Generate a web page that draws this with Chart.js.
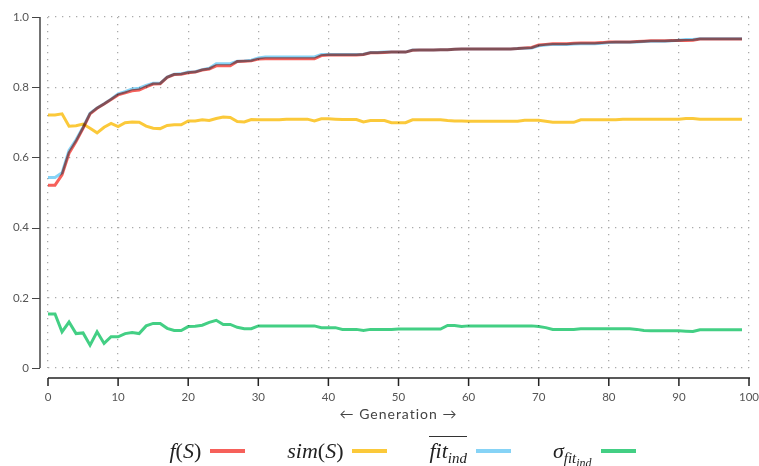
<!DOCTYPE html>
<html>
<head>
<meta charset="utf-8">
<script src="https://cdn.jsdelivr.net/npm/chart.js@4.4.1/dist/chart.umd.min.js"></script>
<style>
  html, body { margin: 0; padding: 0; background: #fff; }
  #wrap { position: relative; width: 759px; height: 466px; }
  #legend {
    position: absolute; left: 0; right: 0; top: 436px; height: 30px;
    display: flex; align-items: center; justify-content: center;
    padding-left: 46px; box-sizing: border-box;
    font-family: "Liberation Serif", serif; font-style: italic; font-size: 22px; color: #222;
  }
  .item { display: flex; align-items: center; margin: 0 21px; }
  .swatch { width: 35px; height: 4px; margin-left: 9px; }
  .up { font-style: normal; }
  sub { font-size: 0.68em; vertical-align: -0.35em; line-height: 0; }
  sub sub { font-size: 0.8em; vertical-align: -0.3em; }
  .bar { border-top: 1.5px solid #333; padding-top: 1px; }
</style>
</head>
<body>
<div id="wrap">
  <canvas id="evo-chart" width="759" height="466"></canvas>
  <div id="legend"></div>
</div>
<script>
// generation index along the x axis
const generations = Array.from({ length: 100 }, (_, i) => i);

// fitness of the solution f(S)
const fitS = [
  0.521, 0.521, 0.550, 0.612, 0.645, 0.683, 0.724, 0.740, 0.752, 0.765,
  0.778, 0.784, 0.790, 0.792, 0.801, 0.809, 0.810, 0.828, 0.836, 0.837,
  0.841, 0.843, 0.849, 0.852, 0.861, 0.861, 0.861, 0.873, 0.874, 0.875,
  0.880, 0.881, 0.881, 0.881, 0.881, 0.881, 0.881, 0.881, 0.881, 0.890,
  0.892, 0.892, 0.892, 0.892, 0.892, 0.893, 0.898, 0.898, 0.899, 0.900,
  0.900, 0.900, 0.905, 0.906, 0.906, 0.906, 0.907, 0.907, 0.908, 0.909,
  0.909, 0.909, 0.909, 0.909, 0.909, 0.909, 0.909, 0.910, 0.912, 0.913,
  0.920, 0.922, 0.924, 0.924, 0.924, 0.925, 0.926, 0.926, 0.926, 0.927,
  0.929, 0.929, 0.929, 0.929, 0.930, 0.931, 0.932, 0.932, 0.932, 0.933,
  0.933, 0.933, 0.934, 0.937, 0.937, 0.937, 0.937, 0.937, 0.937, 0.937,
];

// similarity sim(S)
const simS = [
  0.721, 0.721, 0.724, 0.689, 0.690, 0.695, 0.683, 0.670, 0.686, 0.697,
  0.688, 0.699, 0.701, 0.700, 0.689, 0.683, 0.682, 0.691, 0.693, 0.693,
  0.704, 0.704, 0.707, 0.705, 0.711, 0.715, 0.714, 0.702, 0.701, 0.708,
  0.707, 0.707, 0.707, 0.707, 0.709, 0.709, 0.709, 0.709, 0.704, 0.710,
  0.710, 0.709, 0.708, 0.708, 0.708, 0.701, 0.705, 0.705, 0.705, 0.699,
  0.699, 0.699, 0.707, 0.707, 0.707, 0.707, 0.707, 0.705, 0.704, 0.704,
  0.703, 0.703, 0.703, 0.703, 0.703, 0.703, 0.703, 0.703, 0.706, 0.706,
  0.706, 0.703, 0.700, 0.700, 0.700, 0.700, 0.707, 0.707, 0.707, 0.707,
  0.707, 0.707, 0.709, 0.709, 0.709, 0.709, 0.709, 0.709, 0.709, 0.709,
  0.709, 0.711, 0.711, 0.709, 0.709, 0.709, 0.709, 0.709, 0.709, 0.709,
];

// mean individual fitness
const fitInd = [
  0.543, 0.543, 0.556, 0.620, 0.650, 0.686, 0.726, 0.741, 0.753, 0.766,
  0.781, 0.787, 0.795, 0.797, 0.805, 0.811, 0.811, 0.829, 0.837, 0.838,
  0.843, 0.844, 0.850, 0.854, 0.867, 0.867, 0.867, 0.874, 0.875, 0.877,
  0.883, 0.886, 0.886, 0.886, 0.886, 0.886, 0.886, 0.886, 0.886, 0.893,
  0.893, 0.893, 0.893, 0.893, 0.893, 0.894, 0.899, 0.899, 0.900, 0.900,
  0.900, 0.900, 0.906, 0.906, 0.906, 0.906, 0.907, 0.907, 0.908, 0.909,
  0.909, 0.909, 0.909, 0.909, 0.909, 0.909, 0.909, 0.910, 0.911, 0.912,
  0.918, 0.920, 0.922, 0.922, 0.922, 0.923, 0.924, 0.924, 0.924, 0.925,
  0.927, 0.928, 0.928, 0.928, 0.929, 0.930, 0.931, 0.931, 0.931, 0.932,
  0.934, 0.936, 0.936, 0.938, 0.938, 0.938, 0.938, 0.938, 0.938, 0.938,
];

// standard deviation of individual fitness
const sigmaFit = [
  0.154, 0.154, 0.103, 0.131, 0.098, 0.100, 0.065, 0.103, 0.070, 0.089,
  0.089, 0.098, 0.101, 0.098, 0.120, 0.127, 0.127, 0.113, 0.107, 0.107,
  0.118, 0.119, 0.122, 0.130, 0.136, 0.124, 0.124, 0.116, 0.112, 0.112,
  0.120, 0.120, 0.120, 0.120, 0.120, 0.120, 0.120, 0.120, 0.120, 0.115,
  0.115, 0.115, 0.110, 0.110, 0.110, 0.107, 0.110, 0.110, 0.110, 0.110,
  0.111, 0.111, 0.111, 0.111, 0.111, 0.111, 0.111, 0.121, 0.121, 0.118,
  0.120, 0.120, 0.120, 0.120, 0.120, 0.120, 0.120, 0.120, 0.120, 0.120,
  0.118, 0.115, 0.110, 0.110, 0.110, 0.110, 0.112, 0.112, 0.112, 0.112,
  0.112, 0.112, 0.112, 0.112, 0.110, 0.107, 0.106, 0.106, 0.106, 0.106,
  0.106, 0.105, 0.104, 0.109, 0.109, 0.109, 0.109, 0.109, 0.109, 0.109,
];

const seriesNames = ["f(S)", "sim(S)", "fit_ind", "σ_fit_ind"];
const seriesColors = ["#f6605a", "#fbc93a", "#86d3f6", "#43cf84"];
const seriesValues = [fitS, simS, fitInd, sigmaFit];

// legend labels typeset as maths
const legendHtml = [
  '<i>f</i><span class="up">(</span><i>S</i><span class="up">)</span>',
  '<i>sim</i><span class="up">(</span><i>S</i><span class="up">)</span>',
  '<span class="bar"><i>fit</i><sub><i>ind</i></sub></span>',
  '<i>σ</i><sub><i>fit</i><sub><i>ind</i></sub></sub>',
];

// lines overlap as multiplied colours
const multiplyPlugin = {
  id: "multiplyLines",
  beforeDatasetsDraw: (chart) => {
    chart.ctx.save();
    chart.ctx.globalCompositeOperation = "multiply";
  },
  afterDatasetsDraw: (chart) => {
    chart.ctx.restore();
  },
};

// axis lines sit a little away from the plot area
const offsetAxesPlugin = {
  id: "offsetAxes",
  afterDraw: (chart) => {
    const { ctx, chartArea, scales } = chart;
    const axisX = chartArea.left - 8;
    const axisY = chartArea.bottom + 10;
    ctx.save();
    ctx.strokeStyle = "#444";

    // y axis
    ctx.lineWidth = 1.5;
    ctx.beginPath();
    ctx.moveTo(axisX, chartArea.top);
    ctx.lineTo(axisX, chartArea.bottom);
    ctx.stroke();
    ctx.lineWidth = 1;
    scales.y.ticks.forEach((t) => {
      const y = Math.round(scales.y.getPixelForValue(t.value)) + 0.5;
      ctx.beginPath();
      ctx.moveTo(axisX - 8, y);
      ctx.lineTo(axisX, y);
      ctx.stroke();
    });

    // x axis
    ctx.strokeStyle = "#222";
    ctx.lineWidth = 1.5;
    ctx.beginPath();
    ctx.moveTo(chartArea.left, axisY);
    ctx.lineTo(chartArea.right + 1, axisY);
    ctx.stroke();
    scales.x.ticks.forEach((t) => {
      const x = scales.x.getPixelForValue(t.value);
      ctx.beginPath();
      ctx.moveTo(x, axisY);
      ctx.lineTo(x, axisY + 8);
      ctx.stroke();
    });

    // axis title
    ctx.fillStyle = "#444";
    ctx.font = "14px Lato";
    ctx.letterSpacing = "1px";
    ctx.textAlign = "center";
    ctx.textBaseline = "middle";
    ctx.fillText("\u2190 Generation \u2192", (chartArea.left + chartArea.right) / 2, chartArea.bottom + 46);
    ctx.restore();
  },
};

const tickFont = { family: "Lato", size: 11.5 };

new Chart(document.getElementById("evo-chart").getContext("2d"), {
  type: "line",
  data: {
    datasets: seriesValues.map((values, k) => ({
      label: seriesNames[k],
      data: values.map((v, i) => ({ x: generations[i], y: v })),
      borderColor: seriesColors[k],
      backgroundColor: seriesColors[k],
      borderWidth: 3,
      pointRadius: 0,
      tension: 0,
      fill: false,
    })),
  },
  options: {
    responsive: false,
    animation: false,
    layout: { padding: { left: 8, right: 10, top: 17, bottom: 38 } },
    plugins: {
      legend: { display: false },
      tooltip: { enabled: false },
    },
    scales: {
      x: {
        type: "linear",
        min: 0,
        max: 100,
        ticks: { stepSize: 10, padding: 22, color: "#555", font: tickFont, maxRotation: 0 },
        grid: { color: "#aaa", lineWidth: 1.3, drawTicks: false },
        border: { display: false, dash: [1.3, 5.7] },
        afterFit: (scale) => {
          scale.height = 60;
          scale.paddingLeft = 0;
          scale.paddingRight = 0;
        },
      },
      y: {
        min: 0,
        max: 1,
        ticks: {
          stepSize: 0.2,
          padding: 19,
          color: "#555",
          font: tickFont,
          callback: (v) => (v === 0 ? "0" : v.toFixed(1)),
        },
        grid: { color: "#aaa", lineWidth: 1.3, drawTicks: false },
        border: { display: false, dash: [1.3, 5.7] },
        afterFit: (scale) => {
          scale.width = 40;
          scale.paddingTop = 0;
          scale.paddingBottom = 0;
        },
      },
    },
  },
  plugins: [multiplyPlugin, offsetAxesPlugin],
});

// html legend with math labels
const legend = document.getElementById("legend");
legendHtml.forEach((html, k) => {
  const item = document.createElement("div");
  item.className = "item";
  item.innerHTML = '<span class="lbl">' + html + '</span><span class="swatch" style="background:' + seriesColors[k] + '"></span>';
  legend.appendChild(item);
});
</script>
</body>
</html>
